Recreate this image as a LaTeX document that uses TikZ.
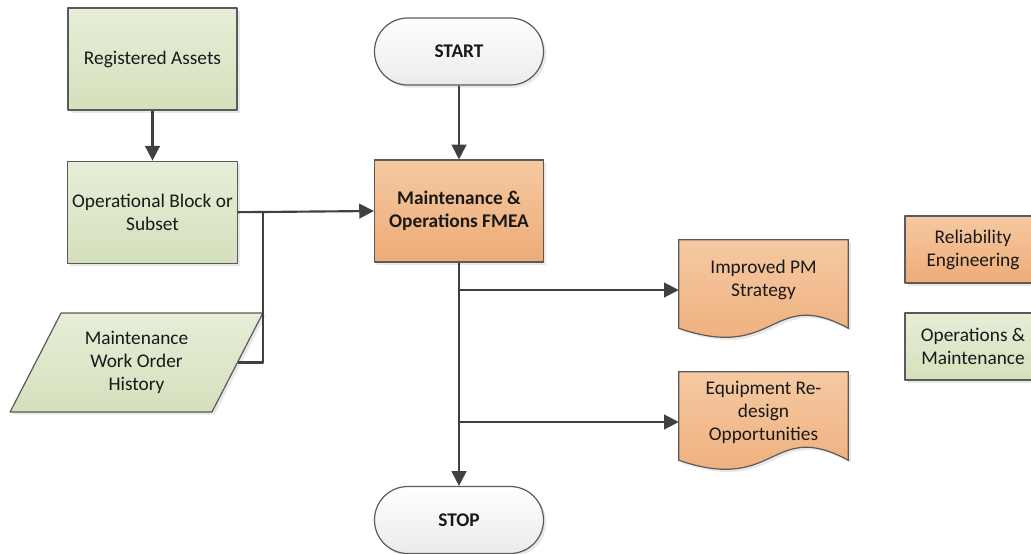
\documentclass[tikz,border=0pt]{standalone}
\usepackage{fontspec}
\setmainfont{Carlito}
\usepackage{tikz}
\usetikzlibrary{arrows.meta,calc}
\usetikzlibrary{positioning,shapes.geometric,shadows}
\definecolor{edgegray}{HTML}{5A5A5A}
\definecolor{linegray}{HTML}{404040}
\definecolor{greentop}{HTML}{E6EED8}
\definecolor{greenbot}{HTML}{D4E0BC}
\definecolor{orgtop}{HTML}{F5C9A2}
\definecolor{orgbot}{HTML}{EEAB76}
\pgfdeclarelayer{bg}\pgfsetlayers{bg,main}
\tikzset{shd/.style={drop shadow={shadow xshift=2pt,shadow yshift=-2pt,opacity=0.18}},
  blk/.style={draw=edgegray,line width=0.9pt,align=center,text=black!90,shd,
    minimum width=126.75pt,minimum height=76.5pt},
  greenbox/.style={blk,top color=greentop,bottom color=greenbot},
  orangebox/.style={blk,top color=orgtop,bottom color=orgbot},
  termbox/.style={blk,top color=white,bottom color=black!8,minimum height=50.25pt,
    rounded corners=25pt,font=\fontsize{14.5}{17.25}\selectfont\bfseries},
  databox/.style={greenbox,trapezium,trapezium left angle=62,trapezium right angle=118,
    trapezium stretches,minimum width=189.75pt,minimum height=74.25pt},
  docbox/.style={align=center,text=black!90,minimum width=126.75pt,minimum height=60pt},
  docshape/.style={draw=edgegray,line width=0.9pt,top color=orgtop,bottom color=orgbot,shd},
  flow/.style={->,draw=linegray,line width=1.6pt},
  tie/.style={draw=linegray,line width=1.6pt}}

\begin{document}
\begin{tikzpicture}[x=0.75pt,y=-0.75pt,>={Triangle[width=11pt,length=11pt]},line join=round,
  font=\fontsize{14.5}{17.25}\selectfont]
\useasboundingbox (0,0) rectangle (1031,553);
% --- inputs (left column)
\node[greenbox] (ra) at (152.5,59) {Registered Assets};
\node[greenbox,below=37.5pt of ra] (ob) {Operational Block or\\Subset};
\node[databox] (wo) at (136.5,362.5) {Maintenance\\Work Order\\History};
% --- main column
\node[termbox] (start) at (459,51.5) {START};
\node[orangebox,font=\fontsize{14.5}{17.25}\selectfont\bfseries] (fmea) at (459,211) {Maintenance \&\\Operations FMEA};
\node[termbox] (stop) at (459,520) {STOP};
% --- outputs
\node[docbox] (ips) at (763.5,280) {Improved PM\\Strategy};
\node[docbox] (ero) at (763.5,412) {Equipment Re-\\design\\Opportunities};
\begin{pgfonlayer}{bg}
\foreach \d in {ips,ero}
  \draw[docshape] (\d.north west) -- (\d.north east) -- ($(\d.south east)+(0,8)$)
    .. controls ($(\d.south)+(7.5,-34)$) and ($(\d.south)+(14,42)$) .. ($(\d.south west)+(0,8)$) -- cycle;
\end{pgfonlayer}
% --- legend
\node[orangebox,minimum width=102pt,minimum height=50.25pt] (legre) at (973,249.5) {Reliability\\Engineering};
\node[greenbox,minimum width=102pt,minimum height=50.25pt] (legom) at (973,346.5) {Operations \&\\Maintenance};
% --- connectors
\coordinate (jn) at (263,211);
\coordinate (b1) at (459,290);
\coordinate (b2) at (459,422);
\draw[flow] (ra) -- (ob);
\draw[flow] (start) -- (fmea);
\draw[flow] (ob.east) -- (fmea.west);
\draw[tie] (wo.east) -| (jn);
\draw[flow] (fmea) -- (stop);
\draw[flow] (b1) -- (b1 -| ips.west);
\draw[flow] (b2) -- (b2 -| ero.west);
\end{tikzpicture}
\end{document}
